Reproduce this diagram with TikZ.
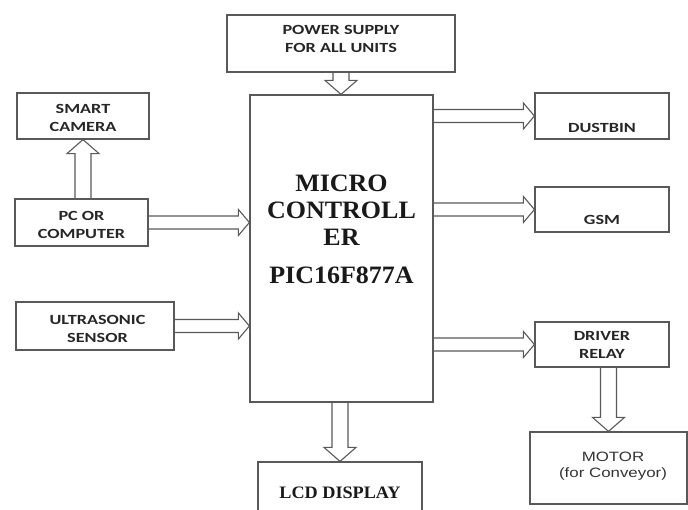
\documentclass[tikz,border=0pt]{standalone}
\usepackage{fontspec}
\usetikzlibrary{calc}
\newfontfamily\lblfont[FakeStretch=1.3]{Carlito}
\newfontfamily\serfont[FakeStretch=1.04]{Liberation Serif}
\newfontfamily\motfont[FakeStretch=1.25]{Liberation Sans}
\newcommand\rarrow[2]{\draw[arr] let \p1=(#1), \p2=(#2) in
  (\x1,\y2+6.5pt) -- (\x2-11pt,\y2+6.5pt) -- (\x2-11pt,\y2+13pt) -- (\x2,\y2) --
  (\x2-11pt,\y2-13pt) -- (\x2-11pt,\y2-6.5pt) -- (\x1,\y2-6.5pt);}
\newcommand\darrow[2]{\draw[arr] let \p1=(#1), \p2=(#2) in
  (\x2-8pt,\y1) -- (\x2-8pt,\y2+14pt) -- (\x2-16pt,\y2+14pt) -- (\x2,\y2) --
  (\x2+16pt,\y2+14pt) -- (\x2+8pt,\y2+14pt) -- (\x2+8pt,\y1);}
\newcommand\uarrow[2]{\draw[arr] let \p1=(#1), \p2=(#2) in
  (\x2-8pt,\y1) -- (\x2-8pt,\y2-14pt) -- (\x2-16pt,\y2-14pt) -- (\x2,\y2) --
  (\x2+16pt,\y2-14pt) -- (\x2+8pt,\y2-14pt) -- (\x2+8pt,\y1);}
\begin{document}
\begin{tikzpicture}[x=1pt,y=-1pt,
  box/.style={draw=black!65,line width=1.2pt,inner sep=0pt},
  arr/.style={draw=black!65,line width=1.1pt,line join=miter},
  lbl/.style={inner sep=0pt,align=center,text=black!85,font=\lblfont\bfseries\fontsize{14}{18}\selectfont},
  ser/.style={inner sep=0pt,align=center,text=black!90,font=\serfont\bfseries\fontsize{25}{27}\selectfont},
  mot/.style={inner sep=0pt,align=center,text=black!80,font=\motfont\fontsize{13.5}{16.5}\selectfont}]
\useasboundingbox (0,0) rectangle (688,510);
% boxes
\node[box,minimum width=228pt,minimum height=57pt] (power) at (341,43.5) {};
\node[box,minimum width=132pt,minimum height=46pt] (camera) at (83,116) {};
\node[box,minimum width=133pt,minimum height=47pt] (pc) at (81.5,222.5) {};
\node[box,minimum width=158pt,minimum height=48pt] (ultra) at (95,326) {};
\node[box,minimum width=183pt,minimum height=307pt] (mc) at (341.5,248.5) {};
\node[box,minimum width=164pt,minimum height=50pt] (lcd) at (340,487) {};
\node[box,minimum width=134pt,minimum height=46pt] (dustbin) at (602,116) {};
\node[box,minimum width=134pt,minimum height=45pt] (gsm) at (602,209.5) {};
\node[box,minimum width=134pt,minimum height=45pt] (driver) at (602,344.5) {};
\node[box,minimum width=157pt,minimum height=72pt] (motor) at (608.5,468) {};
% texts
\node[lbl] (powert) at (341,39) {POWER SUPPLY\\FOR ALL UNITS};
\node[lbl] (camerat) at (83,118) {SMART\\CAMERA};
\node[lbl] (pct) at (81.5,224.5) {PC OR\\COMPUTER};
\node[lbl] (ultrat) at (97.5,329) {ULTRASONIC\\SENSOR};
\node[ser] (mct) at (341.5,229) {MICRO\\CONTROLL\\ER\\[11pt]PIC16F877A};
\node[ser,font=\serfont\bfseries\fontsize{17.5}{20}\selectfont] (lcdt) at (340,493) {LCD DISPLAY};
\node[lbl] (dustbint) at (602,128) {DUSTBIN};
\node[lbl] (gsmt) at (602,220) {GSM};
\node[lbl] (drivert) at (602,345) {DRIVER\\RELAY};
\node[mot] (motort) at (613,466) {MOTOR\\(for Conveyor)};
% connectors
\darrow{power.south}{power.south |- mc.north}
\uarrow{camera.south |- pc.north}{camera.south}
\rarrow{pc.east}{mc.west |- pc.east}
\rarrow{ultra.east}{mc.west |- ultra.east}
\darrow{lcd.north |- mc.south}{lcd.north}
\rarrow{mc.east |- dustbin.west}{dustbin.west}
\rarrow{mc.east |- gsm.west}{gsm.west}
\rarrow{mc.east |- driver.west}{driver.west}
\darrow{motor.north |- driver.south}{motor.north}
\end{tikzpicture}
\end{document}
